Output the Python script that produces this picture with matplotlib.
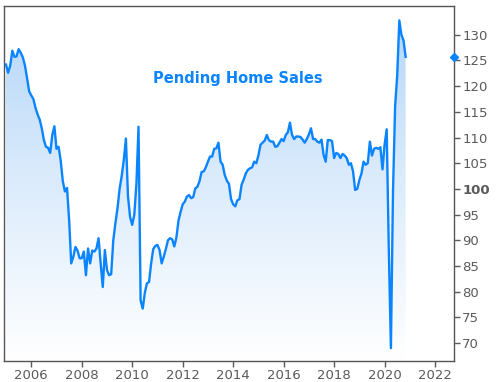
import numpy as np
import matplotlib
matplotlib.use("Agg")
import matplotlib.pyplot as plt
from matplotlib.colors import LinearSegmentedColormap
import matplotlib.transforms as mtransforms

# Pending Home Sales index, monthly from Jan 2005 to Nov 2020
start_year = 2005
phs_2005 = [124.2, 122.6, 124.0, 126.9, 125.7, 125.8, 127.2, 126.5, 125.6, 124.0, 121.6, 119.0]
phs_2006 = [118.2, 117.5, 115.8, 114.5, 113.5, 111.8, 109.5, 108.2, 108.0, 107.0, 110.5, 112.2]
phs_2007 = [107.8, 108.2, 105.5, 101.5, 99.5, 100.2, 94.0, 85.5, 86.8, 88.7, 88.0, 86.5]
phs_2008 = [86.5, 87.8, 83.2, 88.4, 85.5, 88.0, 87.8, 88.4, 90.4, 85.5, 80.9, 88.1]
phs_2009 = [84.2, 83.2, 83.4, 90.0, 93.3, 96.2, 100.0, 102.5, 105.6, 109.8, 98.5, 94.5]
phs_2010 = [93.0, 95.0, 101.0, 112.1, 78.3, 76.7, 79.8, 81.6, 81.9, 85.5, 88.3, 88.9]
phs_2011 = [89.1, 88.1, 85.5, 86.8, 88.3, 90.0, 90.4, 90.2, 88.8, 90.5, 93.8, 95.5]
phs_2012 = [97.0, 97.5, 98.5, 98.8, 98.2, 98.4, 100.1, 100.4, 101.5, 103.3, 103.4, 104.2]
phs_2013 = [105.3, 106.3, 106.3, 107.8, 107.9, 109.0, 105.3, 104.7, 102.7, 101.6, 101.0, 98.0]
phs_2014 = [97.0, 96.6, 97.8, 98.0, 100.8, 101.8, 103.0, 103.7, 104.0, 104.2, 105.3, 105.0]
phs_2015 = [106.5, 108.6, 109.0, 109.4, 110.5, 109.5, 109.2, 109.2, 108.2, 108.3, 109.0, 109.7]
phs_2016 = [109.3, 110.5, 111.0, 112.9, 110.5, 109.7, 110.2, 110.2, 110.1, 109.6, 109.0, 109.7]
phs_2017 = [110.6, 111.8, 109.7, 109.7, 109.2, 109.0, 109.6, 106.6, 105.3, 109.5, 109.5, 109.3]
phs_2018 = [106.0, 107.0, 106.8, 106.0, 106.8, 106.5, 106.0, 104.7, 105.0, 103.4, 99.8, 100.0]
phs_2019 = [101.7, 103.0, 105.3, 104.7, 105.0, 109.2, 106.5, 107.8, 108.0, 107.8, 108.1, 103.8]
phs_2020 = [108.6, 111.6, 88.2, 69.0, 99.6, 116.1, 122.1, 132.8, 130.0, 128.9, 125.7]

y_ticks = [70, 75, 80, 85, 90, 95, 100, 105, 110, 115, 120, 125, 130]
x_ticks = [2006, 2008, 2010, 2012, 2014, 2016, 2018, 2020, 2022]
title = "Pending Home Sales"

values = np.array(phs_2005 + phs_2006 + phs_2007 + phs_2008 + phs_2009 + phs_2010 +
                  phs_2011 + phs_2012 + phs_2013 + phs_2014 + phs_2015 + phs_2016 +
                  phs_2017 + phs_2018 + phs_2019 + phs_2020)
dates = start_year + np.arange(len(values)) / 12.0

line_color = "#0a84ff"
text_gray = "#5a5a5a"

fig = plt.figure(figsize=(4.98, 3.82), dpi=100)
ax = fig.add_axes([4 / 498, 1 - 361 / 382, 450 / 498, 355 / 382])
ymin, ymax = 66.5, 135.6
ax.set_xlim(2004.92, 2022.75)
ax.set_ylim(ymin, ymax)

# gradient fill under the line
cmap = LinearSegmentedColormap.from_list("fade", ["#ffffff", "#dcecfc", "#b3d5f8"])
grad = np.linspace(0, 1, 256).reshape(-1, 1)
img = ax.imshow(grad, cmap=cmap, aspect="auto", origin="lower",
                extent=[dates[0], dates[-1], ymin, ymax], zorder=1)
poly = ax.fill_between(dates, values, ymin, color="none", lw=0)
clip = poly.get_paths()[0]
img.set_clip_path(clip, transform=ax.transData)

ax.plot(dates, values, color=line_color, lw=1.7, zorder=3)

# marker for the latest value on the right axis
trans = mtransforms.blended_transform_factory(ax.transAxes, ax.transData)
ax.plot([1.0], [values[-1]], marker="D", ms=4.5, color=line_color,
        transform=trans, clip_on=False, zorder=5)

ax.text(0.52, 0.797, title, transform=ax.transAxes, ha="center", va="center",
        color=line_color, fontsize=10.5, fontweight="bold")

ax.yaxis.tick_right()
ax.set_yticks(y_ticks)
ax.set_yticklabels([str(t) for t in y_ticks])
for lbl in ax.get_yticklabels():
    if lbl.get_text() == "100":
        lbl.set_fontweight("bold")
ax.set_xticks(x_ticks)
ax.set_xticklabels([str(t) for t in x_ticks])

ax.tick_params(axis="both", colors=text_gray, labelsize=9.5, length=4, width=1)
ax.tick_params(axis="y", pad=2)
ax.tick_params(axis="x", pad=1.5)
for sp in ax.spines.values():
    sp.set_color("#555555")
    sp.set_linewidth(1)

fig.savefig("out.png", dpi=100)
